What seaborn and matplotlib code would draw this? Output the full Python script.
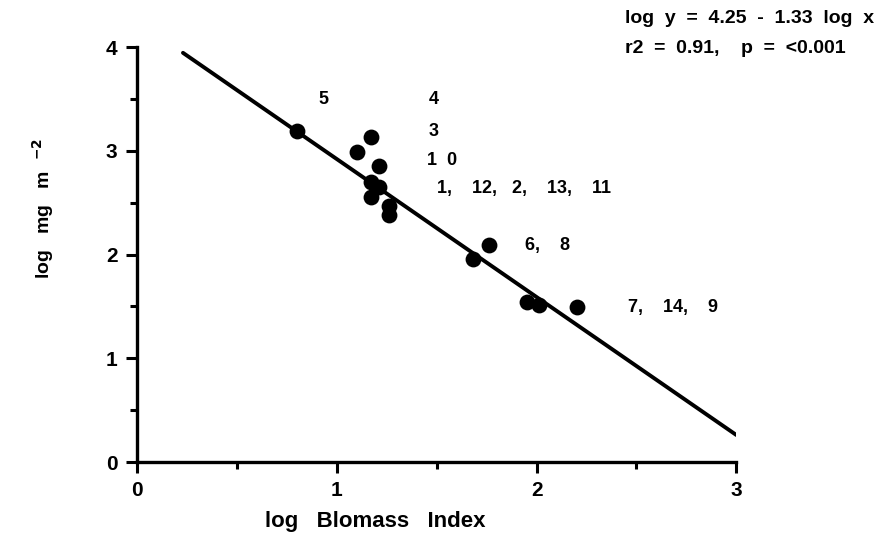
import matplotlib
matplotlib.use("Agg")
import matplotlib.pyplot as plt
import seaborn as sns
import pandas as pd
from matplotlib.ticker import MultipleLocator

# Data
log_biomass = [0.80, 1.10, 1.17, 1.21, 1.17, 1.21, 1.17, 1.26, 1.26,
               1.68, 1.76, 1.95, 2.01, 2.20]
log_mg = [3.19, 2.99, 3.13, 2.85, 2.70, 2.65, 2.55, 2.47, 2.38,
          1.96, 2.09, 1.54, 1.51, 1.49]
intercept = 4.25
slope = -1.33
line_x = [0.23, 3.0]

label_texts = ["5", "4", "3", "1  0", "1,    12,   2,    13,    11", "6,    8", "7,    14,    9"]
label_x = [0.91, 1.46, 1.46, 1.45, 1.50, 1.94, 2.46]
label_y = [3.49, 3.49, 3.19, 2.91, 2.64, 2.09, 1.49]

x_ticks = [0, 1, 2, 3]
y_ticks = [0, 1, 2, 3, 4]

sns.set_style("ticks")
plt.rcParams["font.family"] = ["Liberation Sans", "DejaVu Sans"]
plt.rcParams["font.weight"] = "bold"
plt.rcParams["mathtext.default"] = "bf"
plt.rcParams["text.color"] = "black"
plt.rcParams["axes.labelcolor"] = "black"
plt.rcParams["xtick.color"] = "black"
plt.rcParams["ytick.color"] = "black"
plt.rcParams["axes.edgecolor"] = "black"

fig = plt.figure(figsize=(8.84, 5.5), dpi=100)
ax = fig.add_axes([0.155, 0.16, 0.678, 0.7545])

df = pd.DataFrame({"x": log_biomass, "y": log_mg})
sns.scatterplot(data=df, x="x", y="y", ax=ax, s=130, color="black",
                edgecolor="black", linewidth=0, zorder=3)

ldf = pd.DataFrame({"x": line_x, "y": [intercept + slope * v for v in line_x]})
sns.lineplot(data=ldf, x="x", y="y", ax=ax, color="black", linewidth=2.8)

for t, lx, ly in zip(label_texts, label_x, label_y):
    ax.text(lx, ly, t, fontsize=13, fontweight="bold", ha="left", va="center",
            color="black")

ax.set_xlim(0, 3)
ax.set_ylim(0, 4)
ax.set_xticks(x_ticks)
ax.set_yticks(y_ticks)
ax.xaxis.set_minor_locator(MultipleLocator(0.5))
ax.yaxis.set_minor_locator(MultipleLocator(0.5))
ax.tick_params(axis="both", which="major", length=8, width=2.2, labelsize=15,
               direction="out", pad=6, colors="black")
ax.tick_params(axis="both", which="minor", length=5, width=2.2, direction="out",
               colors="black")
for lbl in ax.get_xticklabels() + ax.get_yticklabels():
    lbl.set_fontweight("bold")
ax.spines["top"].set_visible(False)
ax.spines["right"].set_visible(False)
ax.spines["left"].set_linewidth(2.4)
ax.spines["bottom"].set_linewidth(2.4)

ax.set_xlabel("log   Blomass   Index", fontsize=16, fontweight="bold")
ax.xaxis.set_label_coords(0.397, -0.118)
ax.set_ylabel("log   mg   m  $^{-2}$", fontsize=14, fontweight="bold")
ax.yaxis.set_label_coords(-0.135, 0.61)

fig.text(0.707, 0.967, "log  y  =  4.25  -  1.33  log  x", fontsize=14,
         fontweight="bold", ha="left", va="center")
fig.text(0.707, 0.912, "r2  =  0.91,    p  =  <0.001", fontsize=14,
         fontweight="bold", ha="left", va="center")

fig.savefig("out.png", dpi=100)
